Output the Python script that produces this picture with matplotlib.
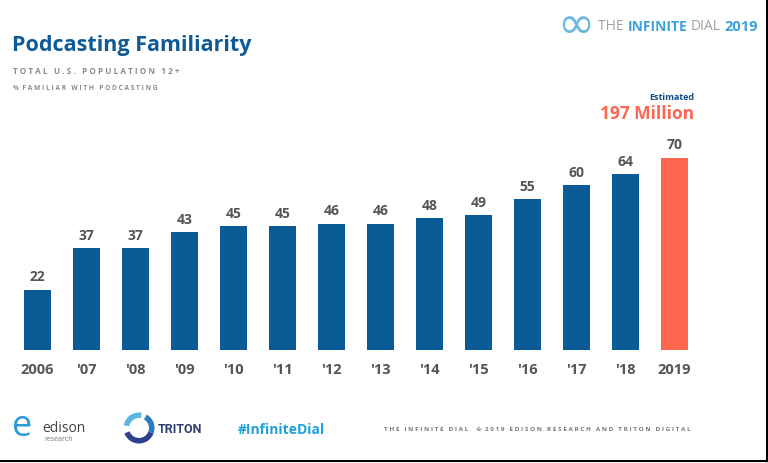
import matplotlib.pyplot as plt
from matplotlib.patches import Arc

# data
years = ["2006", "'07", "'08", "'09", "'10", "'11", "'12", "'13", "'14", "'15", "'16", "'17", "'18", "2019"]
familiar = [22, 37, 37, 43, 45, 45, 46, 46, 48, 49, 55, 60, 64, 70]

BLUE = '#0b5c96'
CORAL = '#ff6650'
GRAY = '#555555'
FONT = 'Open Sans'

W, H = 768, 464
fig = plt.figure(figsize=(W / 100, H / 100), dpi=100)

def fx(px):  # pixel -> figure fraction
    return px / W

def fy(py):
    return 1 - py / H

# bar axes: baseline at y=351 px, 2.75 px per unit
ax = fig.add_axes([fx(13), fy(351), fx(686), 220 / H])
colors = [BLUE] * (len(years) - 1) + [CORAL]
xs = range(len(years))
ax.bar(xs, familiar, width=0.55, color=colors)
for x, v in zip(xs, familiar):
    ax.text(x, v + 2.2, str(v), ha='center', va='bottom', fontsize=10,
            fontweight='bold', color=GRAY, family=FONT)
ax.set_xlim(-0.5, len(years) - 0.5)
ax.set_ylim(0, 80)
ax.set_xticks(list(xs))
ax.set_xticklabels(years, fontsize=10.5, fontweight='bold', color=GRAY, family=FONT)
ax.tick_params(axis='x', length=0, pad=9)
ax.set_yticks([])
for s in ax.spines.values():
    s.set_visible(False)

# titles
fig.text(fx(12), fy(46), 'Podcasting Familiarity', fontsize=15.5, fontweight='bold',
         color='#0e5a96', family=FONT, va='center')
fig.text(fx(13), fy(72), 'T O T A L   U . S .   P O P U L A T I O N   1 2 +', fontsize=5.9,
         fontweight='bold', color='#8a8a8a', family=FONT, va='center')
fig.text(fx(13), fy(89), '%  F A M I L I A R   W I T H   P O D C A S T I N G', fontsize=4.7,
         fontweight='bold', color='#8a8a8a', family=FONT, va='center')

# estimate callout
fig.text(fx(694), fy(98), 'Estimated', fontsize=6.5, fontweight='bold', color='#0e4f8a',
         family=FONT, ha='right', va='center')
fig.text(fx(694), fy(114), '197 Million', fontsize=12.5, fontweight='bold', color=CORAL,
         family=FONT, ha='right', va='center')

# header brand
fig.text(fx(557), fy(25), '∞', fontsize=32, color='#6ab8e0', family='DejaVu Sans',
         va='center', ha='left')
fig.text(fx(598), fy(27), 'THE ', fontsize=10, color='#a0a0a0', family=FONT, va='center')
fig.text(fx(628), fy(27), 'INFINITE', fontsize=10, fontweight='bold', color='#3aa3dc',
         family=FONT, va='center')
fig.text(fx(691), fy(27), 'DIAL', fontsize=10, color='#a0a0a0', family=FONT, va='center')
fig.text(fx(724), fy(27), '2019', fontsize=10.5, fontweight='bold', color='#3aa3dc',
         family=FONT, va='center')

# footer logos
fig.text(fx(12), fy(427), 'e', fontsize=26, color='#2a9ad8', family=FONT, va='center')
fig.text(fx(42), fy(429), 'edison', fontsize=10, color='#444444', family=FONT, va='center')
fig.text(fx(44), fy(440), 'research', fontsize=5, color='#777777', family=FONT, va='center')
ov = fig.add_axes([fx(122), fy(446), fx(34), 34 / H])
ov.set_xlim(-1, 1)
ov.set_ylim(-1, 1)
ov.axis('off')
ov.add_patch(Arc((0, 0), 1.5, 1.5, theta1=200, theta2=340, lw=4, color='#2f3f8f'))
ov.add_patch(Arc((0, 0), 1.5, 1.5, theta1=80, theta2=170, lw=4, color='#5fb6e3'))
ov.add_patch(Arc((0, 0), 1.5, 1.5, theta1=-20, theta2=60, lw=4, color='#2a7cc0'))
fig.text(fx(158), fy(430), 'TRITON', fontsize=9, fontweight='bold', color='#2f3f6f',
         family='Roboto', va='center', stretch='condensed')
fig.text(fx(238), fy(430), '#InfiniteDial', fontsize=10, fontweight='bold', color='#1ea0dc',
         family=FONT, va='center')
fig.text(fx(384), fy(430), 'T H E   I N F I N I T E   D I A L     ©  2 0 1 9   E D I S O N   R E S E A R C H   A N D   T R I T O N   D I G I T A L',
         fontsize=4.6, fontweight='bold', color='#777777', family=FONT, va='center')

# slide border at right and bottom
fig.add_artist(plt.Line2D([fx(766.5), fx(766.5)], [fy(0), fy(462)], color='black', lw=1.5))
fig.add_artist(plt.Line2D([fx(0), fx(767)], [fy(462), fy(462)], color='black', lw=1.5))

fig.savefig('out.png', dpi=100)
